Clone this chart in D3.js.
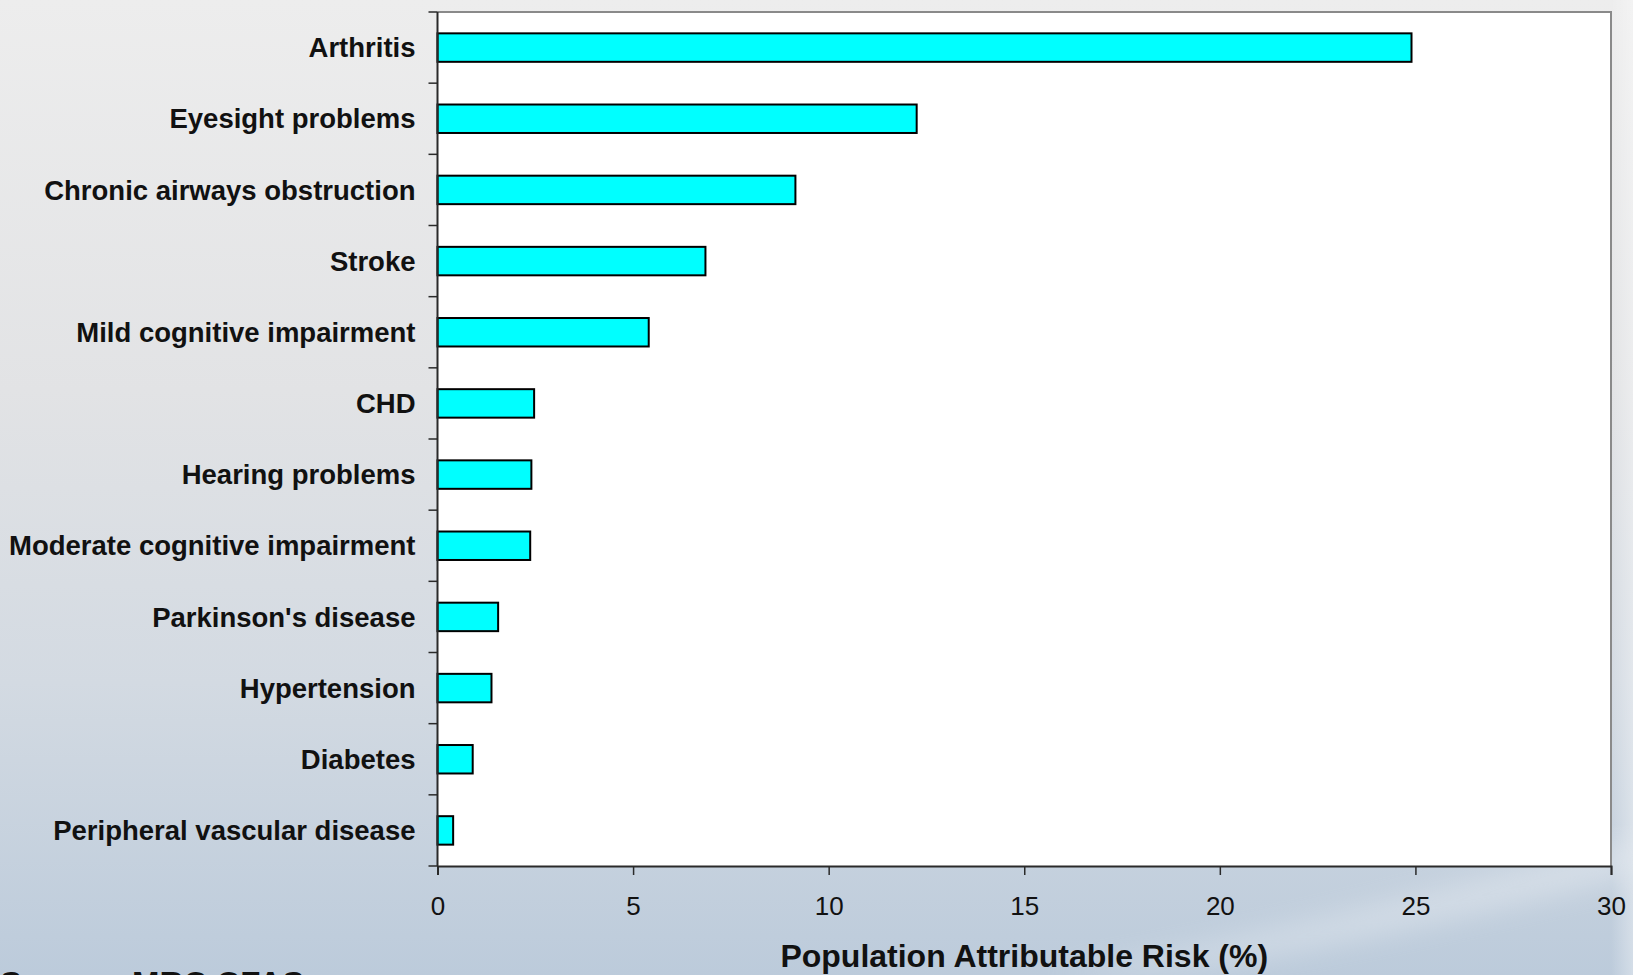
<!DOCTYPE html>
<html>
<head>
<meta charset="utf-8">
<script src="https://cdn.jsdelivr.net/npm/d3@7"></script>
<style>
  html, body { margin: 0; padding: 0; overflow: hidden; background: #e6e8eb; }
  svg { display: block; }
</style>
</head>
<body>
<svg id="chart" width="1633" height="975"></svg>
<script>
// Conditions, top to bottom
const conditions = [
  "Arthritis",
  "Eyesight problems",
  "Chronic airways obstruction",
  "Stroke",
  "Mild cognitive impairment",
  "CHD",
  "Hearing problems",
  "Moderate cognitive impairment",
  "Parkinson's disease",
  "Hypertension",
  "Diabetes",
  "Peripheral vascular disease"
];
// Population attributable risk (%)
const parValues = [24.9, 12.25, 9.15, 6.85, 5.4, 2.47, 2.4, 2.37, 1.55, 1.38, 0.9, 0.4];
const xTicks = [0, 5, 10, 15, 20, 25, 30];
const xTitle = "Population Attributable Risk (%)";
const sourceNote = "Source: MRC CFAS";

const W = 1633, H = 975;
const plot = { left: 437.5, right: 1611, top: 12, bottom: 866 };

const svg = d3.select("#chart");
const defs = svg.append("defs");

// slide background: pale grey at the top fading to blue-grey at the bottom
const bg = defs.append("linearGradient").attr("id", "bgGrad")
  .attr("x1", 0).attr("y1", 0).attr("x2", 0).attr("y2", 1);
bg.append("stop").attr("offset", "0%").attr("stop-color", "#ededed");
bg.append("stop").attr("offset", "40%").attr("stop-color", "#e2e3e5");
bg.append("stop").attr("offset", "70%").attr("stop-color", "#d3dae2");
bg.append("stop").attr("offset", "100%").attr("stop-color", "#bccbdb");

const side = defs.append("linearGradient").attr("id", "sideGrad")
  .attr("x1", 0).attr("y1", 0).attr("x2", 1).attr("y2", 0);
side.append("stop").attr("offset", "0%").attr("stop-color", "#ffffff").attr("stop-opacity", 0);
side.append("stop").attr("offset", "100%").attr("stop-color", "#ffffff").attr("stop-opacity", 0.35);

defs.append("filter").attr("id", "soft")
  .append("feGaussianBlur").attr("stdDeviation", 14);

svg.append("rect").attr("width", W).attr("height", H).attr("fill", "url(#bgGrad)");
svg.append("rect").attr("x", plot.right).attr("width", W - plot.right).attr("height", H)
  .attr("fill", "url(#sideGrad)");
// faint light streak across the lower right
svg.append("path")
  .attr("d", "M1050,975 C1280,935 1460,885 1633,840 L1633,875 C1470,915 1290,958 1120,975 Z")
  .attr("fill", "#ffffff").attr("opacity", 0.3).attr("filter", "url(#soft)");

const x = d3.scaleLinear().domain([0, 30]).range([plot.left, plot.right]);
const y = d3.scaleBand().domain(conditions)
  .range([plot.top, plot.bottom])
  .paddingInner(0.6).paddingOuter(0.3);
const step = y.step();

// plot area
svg.append("rect")
  .attr("x", plot.left).attr("y", plot.top)
  .attr("width", plot.right - plot.left).attr("height", plot.bottom - plot.top)
  .attr("fill", "#ffffff");
// top and right frame
svg.append("path")
  .attr("d", `M${plot.left},${plot.top}H${plot.right}V${plot.bottom}`)
  .attr("fill", "none").attr("stroke", "#8a8a8a").attr("stroke-width", 2);

// bars
svg.append("g").selectAll("rect")
  .data(conditions)
  .join("rect")
  .attr("x", x(0))
  .attr("y", d => y(d))
  .attr("width", (d, i) => x(parValues[i]) - x(0))
  .attr("height", y.bandwidth())
  .attr("fill", "#00ffff")
  .attr("stroke", "#000000")
  .attr("stroke-width", 2);

// x axis
const xAxis = d3.axisBottom(x).tickValues(xTicks).tickSize(9).tickPadding(22);
const gx = svg.append("g").attr("transform", `translate(0,${plot.bottom})`).call(xAxis);
gx.select(".domain").attr("stroke", "#2a2a2a").attr("stroke-width", 2);
gx.selectAll(".tick line").attr("stroke", "#2a2a2a").attr("stroke-width", 1.5);
gx.selectAll(".tick text")
  .attr("font-family", "'Liberation Sans', Arial, sans-serif")
  .attr("font-size", 26).attr("fill", "#111");

// y axis: ticks sit on category boundaries
const gy = svg.append("g");
gy.append("line")
  .attr("x1", plot.left).attr("x2", plot.left)
  .attr("y1", plot.top).attr("y2", plot.bottom)
  .attr("stroke", "#2a2a2a").attr("stroke-width", 2);
gy.selectAll("line.tick")
  .data(d3.range(conditions.length + 1))
  .join("line")
  .attr("class", "tick")
  .attr("x1", plot.left - 9).attr("x2", plot.left)
  .attr("y1", i => plot.top + i * step)
  .attr("y2", i => plot.top + i * step)
  .attr("stroke", "#2a2a2a").attr("stroke-width", 1.5);
gy.selectAll("text")
  .data(conditions)
  .join("text")
  .attr("x", plot.left - 22)
  .attr("y", d => y(d) + y.bandwidth() / 2)
  .attr("dy", "0.35em")
  .attr("text-anchor", "end")
  .attr("font-family", "'Liberation Sans', Arial, sans-serif")
  .attr("font-weight", "bold")
  .attr("font-size", 27.5)
  .attr("fill", "#111")
  .text(d => d);

// axis title
svg.append("text")
  .attr("x", (plot.left + plot.right) / 2)
  .attr("y", 967)
  .attr("text-anchor", "middle")
  .attr("font-family", "'Liberation Sans', Arial, sans-serif")
  .attr("font-weight", "bold")
  .attr("font-size", 32)
  .attr("fill", "#111")
  .text(xTitle);

// source note, running off the bottom edge
svg.append("text")
  .attr("x", 0)
  .attr("y", 995)
  .attr("font-family", "'Liberation Sans', Arial, sans-serif")
  .attr("font-weight", "bold")
  .attr("font-size", 33)
  .attr("fill", "#111")
  .text(sourceNote);
</script>
</body>
</html>
